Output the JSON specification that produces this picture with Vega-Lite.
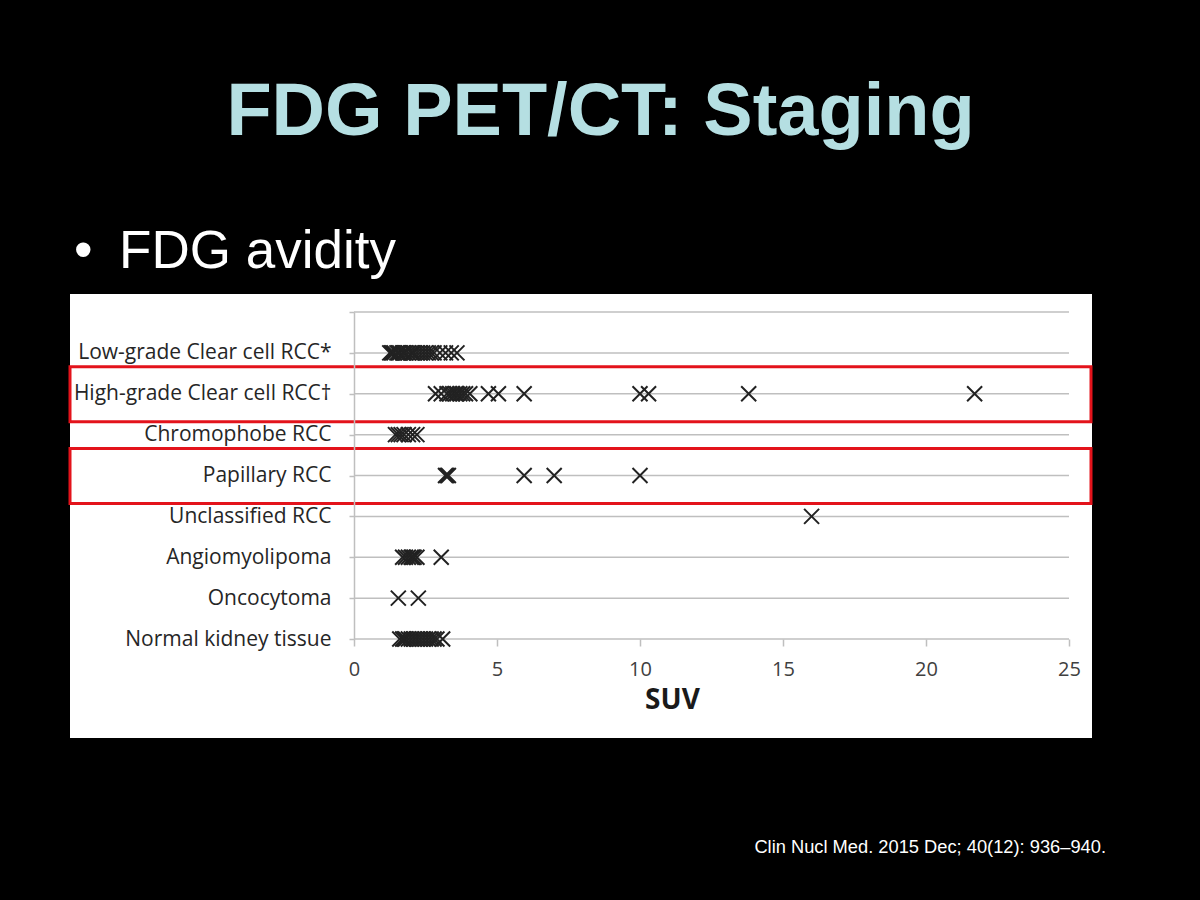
{
  "$schema": "https://vega.github.io/schema/vega-lite/v6.json",
  "width": 715,
  "height": 327,
  "autosize": {"type": "none"},
  "padding": {"left": 354, "top": 312, "right": 131, "bottom": 261},
  "background": "#000000",
  "config": {"view": {"stroke": null}},
  "title": {
    "text": "FDG PET/CT: Staging",
    "font": "Liberation Sans",
    "fontSize": 74,
    "fontWeight": "bold",
    "color": "#b5dfe2",
    "anchor": "middle",
    "frame": "group",
    "dx": -111,
    "offset": 75
  },
  "datasets": {
    "suv": [
      {"category": "Low-grade Clear cell RCC*", "suv": 1.25},
      {"category": "Low-grade Clear cell RCC*", "suv": 1.3},
      {"category": "Low-grade Clear cell RCC*", "suv": 1.35},
      {"category": "Low-grade Clear cell RCC*", "suv": 1.4},
      {"category": "Low-grade Clear cell RCC*", "suv": 1.5},
      {"category": "Low-grade Clear cell RCC*", "suv": 1.55},
      {"category": "Low-grade Clear cell RCC*", "suv": 1.6},
      {"category": "Low-grade Clear cell RCC*", "suv": 1.7},
      {"category": "Low-grade Clear cell RCC*", "suv": 1.75},
      {"category": "Low-grade Clear cell RCC*", "suv": 1.8},
      {"category": "Low-grade Clear cell RCC*", "suv": 1.9},
      {"category": "Low-grade Clear cell RCC*", "suv": 2.0},
      {"category": "Low-grade Clear cell RCC*", "suv": 2.05},
      {"category": "Low-grade Clear cell RCC*", "suv": 2.1},
      {"category": "Low-grade Clear cell RCC*", "suv": 2.2},
      {"category": "Low-grade Clear cell RCC*", "suv": 2.3},
      {"category": "Low-grade Clear cell RCC*", "suv": 2.4},
      {"category": "Low-grade Clear cell RCC*", "suv": 2.5},
      {"category": "Low-grade Clear cell RCC*", "suv": 2.6},
      {"category": "Low-grade Clear cell RCC*", "suv": 2.7},
      {"category": "Low-grade Clear cell RCC*", "suv": 2.8},
      {"category": "Low-grade Clear cell RCC*", "suv": 3.0},
      {"category": "Low-grade Clear cell RCC*", "suv": 3.2},
      {"category": "Low-grade Clear cell RCC*", "suv": 3.4},
      {"category": "Low-grade Clear cell RCC*", "suv": 3.6},
      {"category": "High-grade Clear cell RCC†", "suv": 2.85},
      {"category": "High-grade Clear cell RCC†", "suv": 3.05},
      {"category": "High-grade Clear cell RCC†", "suv": 3.25},
      {"category": "High-grade Clear cell RCC†", "suv": 3.35},
      {"category": "High-grade Clear cell RCC†", "suv": 3.45},
      {"category": "High-grade Clear cell RCC†", "suv": 3.55},
      {"category": "High-grade Clear cell RCC†", "suv": 3.6},
      {"category": "High-grade Clear cell RCC†", "suv": 3.7},
      {"category": "High-grade Clear cell RCC†", "suv": 3.8},
      {"category": "High-grade Clear cell RCC†", "suv": 3.9},
      {"category": "High-grade Clear cell RCC†", "suv": 4.05},
      {"category": "High-grade Clear cell RCC†", "suv": 4.7},
      {"category": "High-grade Clear cell RCC†", "suv": 5.05},
      {"category": "High-grade Clear cell RCC†", "suv": 5.95},
      {"category": "High-grade Clear cell RCC†", "suv": 10.0},
      {"category": "High-grade Clear cell RCC†", "suv": 10.3},
      {"category": "High-grade Clear cell RCC†", "suv": 13.8},
      {"category": "High-grade Clear cell RCC†", "suv": 21.7},
      {"category": "Chromophobe RCC", "suv": 1.45},
      {"category": "Chromophobe RCC", "suv": 1.55},
      {"category": "Chromophobe RCC", "suv": 1.65},
      {"category": "Chromophobe RCC", "suv": 1.75},
      {"category": "Chromophobe RCC", "suv": 1.9},
      {"category": "Chromophobe RCC", "suv": 2.05},
      {"category": "Chromophobe RCC", "suv": 2.2},
      {"category": "Papillary RCC", "suv": 3.2},
      {"category": "Papillary RCC", "suv": 3.25},
      {"category": "Papillary RCC", "suv": 3.3},
      {"category": "Papillary RCC", "suv": 5.95},
      {"category": "Papillary RCC", "suv": 7.0},
      {"category": "Papillary RCC", "suv": 10.0},
      {"category": "Unclassified RCC", "suv": 16.0},
      {"category": "Angiomyolipoma", "suv": 1.7},
      {"category": "Angiomyolipoma", "suv": 1.8},
      {"category": "Angiomyolipoma", "suv": 1.9},
      {"category": "Angiomyolipoma", "suv": 2.0},
      {"category": "Angiomyolipoma", "suv": 2.05},
      {"category": "Angiomyolipoma", "suv": 2.1},
      {"category": "Angiomyolipoma", "suv": 2.2},
      {"category": "Angiomyolipoma", "suv": 3.05},
      {"category": "Oncocytoma", "suv": 1.55},
      {"category": "Oncocytoma", "suv": 2.25},
      {"category": "Normal kidney tissue", "suv": 1.6},
      {"category": "Normal kidney tissue", "suv": 1.7},
      {"category": "Normal kidney tissue", "suv": 1.75},
      {"category": "Normal kidney tissue", "suv": 1.8},
      {"category": "Normal kidney tissue", "suv": 1.9},
      {"category": "Normal kidney tissue", "suv": 2.0},
      {"category": "Normal kidney tissue", "suv": 2.1},
      {"category": "Normal kidney tissue", "suv": 2.2},
      {"category": "Normal kidney tissue", "suv": 2.3},
      {"category": "Normal kidney tissue", "suv": 2.4},
      {"category": "Normal kidney tissue", "suv": 2.5},
      {"category": "Normal kidney tissue", "suv": 2.6},
      {"category": "Normal kidney tissue", "suv": 2.7},
      {"category": "Normal kidney tissue", "suv": 2.8},
      {"category": "Normal kidney tissue", "suv": 2.9},
      {"category": "Normal kidney tissue", "suv": 3.1}
    ]
  },
  "data": {"name": "suv"},
  "layer": [
    {
      "data": {"values": [{"panel": "figure"}]},
      "mark": {"type": "rect", "fill": "#ffffff", "clip": false, "xOffset": -284, "x2Offset": 23, "yOffset": -18, "y2Offset": 99},
      "encoding": {
        "x": {"datum": 0},
        "x2": {"datum": 25},
        "y": {"datum": " "},
        "y2": {"datum": "Normal kidney tissue"}
      }
    },
    {
      "data": {"values": [{"line": "top"}]},
      "mark": {"type": "rule", "color": "#bfbfbf", "strokeWidth": 1.5},
      "encoding": {
        "x": {"datum": 0},
        "x2": {"datum": 25},
        "y": {"datum": " "}
      }
    },
    {
      "transform": [{"aggregate": [{"op": "count", "as": "n"}], "groupby": ["category"]}],
      "mark": {"type": "rule", "color": "#bfbfbf", "strokeWidth": 1.5},
      "encoding": {
        "x": {"datum": 0},
        "x2": {"datum": 25},
        "y": {"field": "category", "type": "nominal"}
      }
    },
    {
      "mark": {"type": "point", "shape": "M-1,-1L1,1M-1,1L1,-1", "size": 225, "filled": false, "stroke": "#222222", "strokeWidth": 2, "opacity": 1},
      "encoding": {
        "x": {
          "field": "suv",
          "type": "quantitative",
          "scale": {"domain": [0, 25], "nice": false, "zero": true},
          "axis": {
            "values": [0, 5, 10, 15, 20, 25],
            "grid": false,
            "domain": false,
            "ticks": true,
            "tickSize": 7,
            "tickColor": "#bfbfbf",
            "tickWidth": 1.5,
            "labelFont": "Open Sans",
            "labelFontSize": 20,
            "labelColor": "#404040",
            "labelPadding": 13,
            "labelFlush": false,
            "title": "SUV",
            "titleFont": "Open Sans",
            "titleFontSize": 28,
            "titleFontWeight": "bold",
            "titleColor": "#1a1a1a",
            "titleX": 318,
            "titleY": 47,
            "titleAlign": "center",
            "titleBaseline": "top",
            "zindex": 1
          }
        },
        "y": {
          "field": "category",
          "type": "nominal",
          "scale": {
            "type": "point",
            "padding": 0,
            "domain": [" ", "Low-grade Clear cell RCC*", "High-grade Clear cell RCC†", "Chromophobe RCC", "Papillary RCC", "Unclassified RCC", "Angiomyolipoma", "Oncocytoma", "Normal kidney tissue"]
          },
          "axis": {
            "grid": false,
            "domain": true,
            "domainColor": "#bfbfbf",
            "domainWidth": 1.5,
            "ticks": true,
            "tickSize": 5,
            "tickColor": "#bfbfbf",
            "tickWidth": 1.5,
            "labelFont": "Open Sans",
            "labelFontSize": 21,
            "labelColor": "#262626",
            "labelPadding": 18,
            "labelLimit": 400,
            "title": null,
            "zindex": 1
          }
        }
      }
    },
    {
      "data": {"values": [{"category": "High-grade Clear cell RCC†"}, {"category": "Papillary RCC"}]},
      "mark": {"type": "rect", "fill": null, "stroke": "#e3131b", "strokeWidth": 3, "clip": false, "xOffset": -284, "x2Offset": 22, "yOffset": -27, "y2Offset": 28},
      "encoding": {
        "x": {"datum": 0},
        "x2": {"datum": 25},
        "y": {"field": "category", "type": "nominal"},
        "y2": {"field": "category"}
      }
    },
    {
      "data": {"values": [{"text": "•\u2002FDG avidity"}]},
      "mark": {"type": "text", "align": "left", "baseline": "alphabetic", "dx": -280, "dy": -44, "font": "Liberation Sans", "fontSize": 53, "color": "#ffffff", "clip": false},
      "encoding": {
        "text": {"field": "text"},
        "x": {"datum": 0},
        "y": {"datum": " "}
      }
    },
    {
      "data": {"values": [{"text": "Clin Nucl Med. 2015 Dec; 40(12): 936–940."}]},
      "mark": {"type": "text", "align": "right", "baseline": "alphabetic", "dx": 37, "dy": 214, "font": "Liberation Sans", "fontSize": 18.3, "color": "#ffffff", "clip": false},
      "encoding": {
        "text": {"field": "text"},
        "x": {"datum": 25},
        "y": {"datum": "Normal kidney tissue"}
      }
    }
  ]
}
